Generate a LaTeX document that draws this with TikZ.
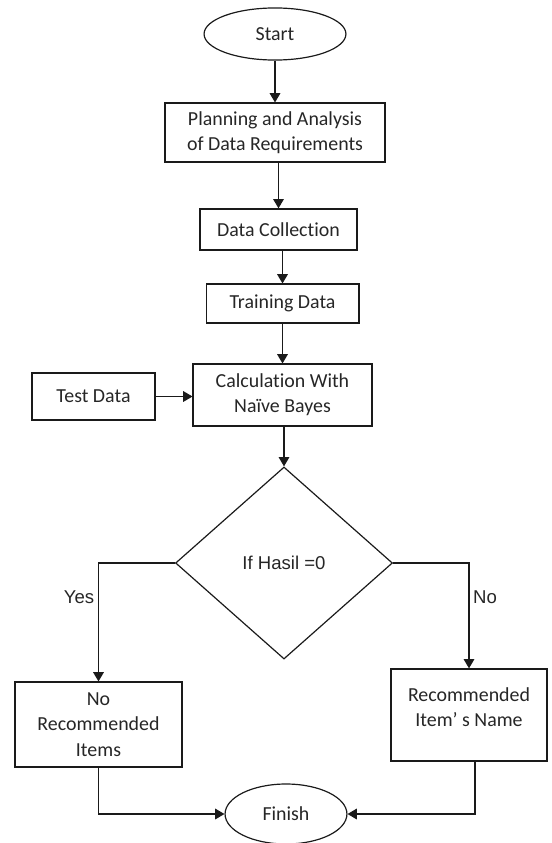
\documentclass[tikz,border=0pt]{standalone}
\usepackage{fontspec}
\setmainfont{Carlito}[Ligatures=NoCommon]
\newfontfamily\branchfont{Liberation Sans}
\usepackage{tikz}
\usetikzlibrary{arrows.meta,shapes.geometric}
\definecolor{flowline}{HTML}{1A1A1A}
\definecolor{flowtext}{HTML}{262626}

\begin{document}
\begin{tikzpicture}[
  x=0.0265cm, y=-0.0265cm,
  font=\fontsize{15}{19}\selectfont,
  box/.style={draw=flowline,line width=0.9pt,inner sep=0pt,
    align=center,text=flowtext},
  term/.style={box,ellipse},
  decision/.style={box,diamond},
  arrow/.style={-{Triangle[length=7pt,width=8pt]},line width=0.9pt,draw=flowline},
  branch/.style={font=\branchfont\fontsize{14}{17}\selectfont,text=flowtext}
]
\useasboundingbox (0,0) rectangle (551,843);

\node[term, minimum width=3.76cm, minimum height=1.38cm] (start) at (275,34) {Start};
\node[box, minimum width=5.83cm, minimum height=1.56cm] (plan) at (275,132.5)
  {Planning and Analysis\\of Data Requirements};
\node[box, minimum width=4.16cm, minimum height=1.09cm] (collect) at (278.5,229.5) {Data Collection};
\node[box, minimum width=4.05cm, minimum height=1.03cm] (train) at (282.5,303.5) {Training Data};
\node[box, minimum width=4.74cm, minimum height=1.64cm] (calc) at (282.5,395)
  {Calculation With\\Naïve Bayes};
\node[box, minimum width=3.26cm, minimum height=1.25cm] (test) at (93.5,396.5) {Test Data};
\node[decision, minimum width=5.75cm, minimum height=5.09cm,
  font=\branchfont\fontsize{14}{17}\selectfont] (check) at (284,563) {If Hasil =0};
\node[box, minimum width=4.43cm, minimum height=2.25cm] (norec) at (98.5,724.5)
  {No\\Recommended\\Items};
\node[box, minimum width=4.13cm, minimum height=2.44cm, text depth=0.42cm] (rec) at (469,715)
  {Recommended\\Item’ s Name};
\node[term, minimum width=3.23cm, minimum height=1.59cm] (finish) at (286,814) {Finish};

\node[branch] (yes) at (79,597) {Yes};
\node[branch] (no) at (485,597) {No};

\draw[arrow] (start) -- (plan);
\draw[arrow] (collect.north |- plan.south) -- (collect.north);
\draw[arrow] (train.north |- collect.south) -- (train.north);
\draw[arrow] (train.south) -- (train.south |- calc.north);
\draw[arrow] (test.east) -- (test.east -| calc.west);
\draw[arrow] (check.north |- calc.south) -- (check.north);
\draw[arrow] (check.west) -| (norec.north);
\draw[arrow] (check.east) -| (rec.north);
\draw[arrow] (norec.south) |- (finish.west);
\draw[arrow] ([xshift=4.5pt]rec.south) |- (finish.east);
\end{tikzpicture}
\end{document}
